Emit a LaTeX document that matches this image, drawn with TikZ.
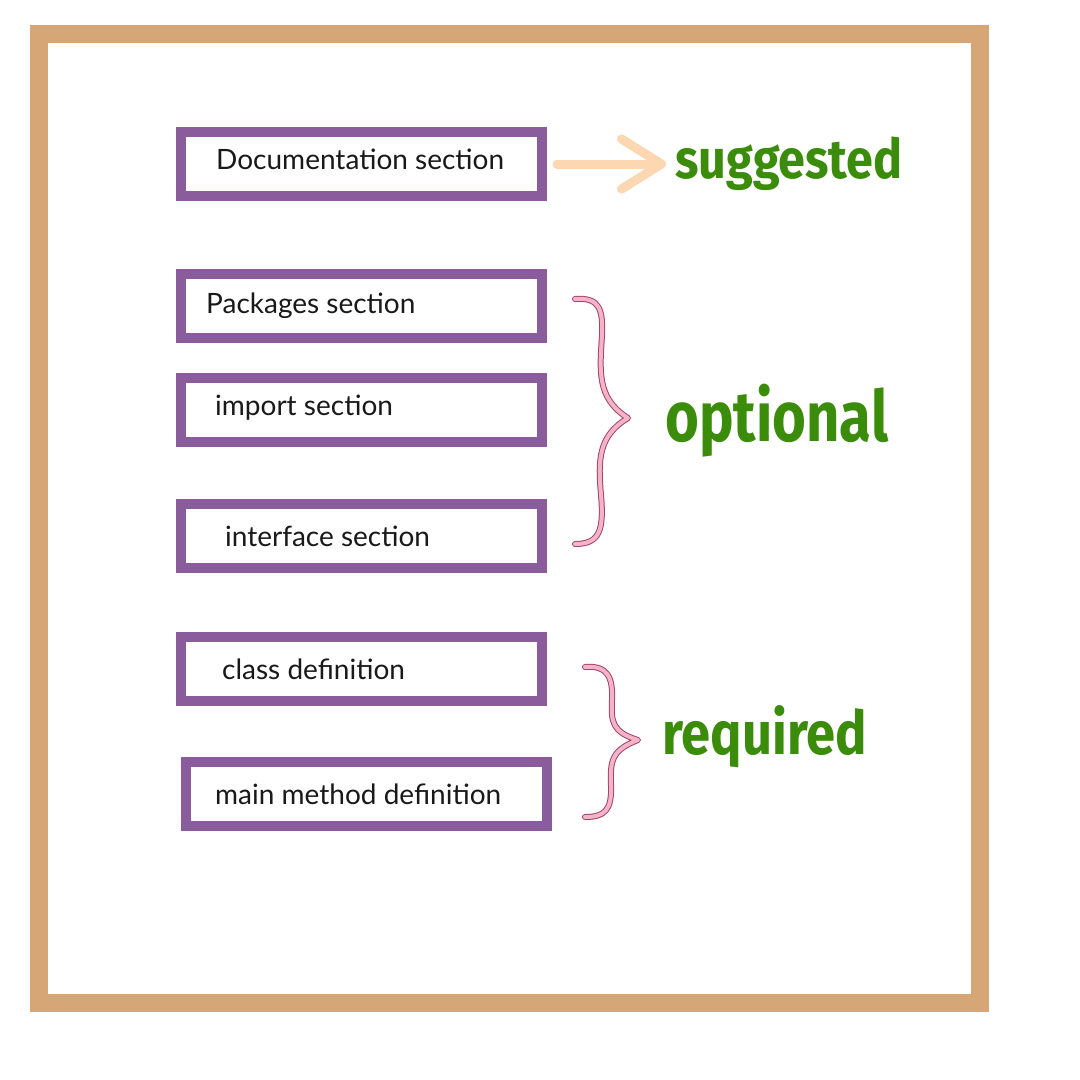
\documentclass[tikz,border=0pt]{standalone}
\usepackage{fontspec}
\setmainfont{Lato}
\newfontfamily\labfont{Fira Sans}
\usetikzlibrary{arrows.meta}
\definecolor{frame}{HTML}{D6A676}
\definecolor{boxc}{HTML}{8A5C9B}
\definecolor{peach}{HTML}{FDD6B2}
\definecolor{pinkf}{HTML}{F5B3C8}
\definecolor{pinkd}{HTML}{A0446C}
\definecolor{grn}{HTML}{3A8C0A}
\begin{document}
\begin{tikzpicture}[x=1pt,y=-1pt,
  secbox/.style={draw=boxc, line width=10pt, minimum width=361pt, minimum height=64pt, inner sep=0pt, fill=white},
  sectext/.style={anchor=west, font=\fontsize{28}{32}\selectfont, text=black!90, inner sep=0pt},
  lab/.style={text=grn, inner sep=0pt, font=\labfont\bfseries},
  bracebg/.style={draw=pinkd, line width=6pt, line cap=round, line join=round},
  bracefg/.style={draw=pinkf, line width=4pt, line cap=round, line join=round}]
\useasboundingbox (0,0) rectangle (1080,1080);
\fill[white] (0,0) rectangle (1080,1080);
\draw[frame, line width=18pt] (39,34) rectangle (980,1003);

\node[secbox] (b1) at (361.5,164) {};
\node[secbox] (b2) at (361.5,306) {};
\node[secbox] (b3) at (361.5,410) {};
\node[secbox] (b4) at (361.5,536) {};
\node[secbox] (b5) at (361.5,669) {};
\node[secbox] (b6) at (366.5,794) {};

\node[sectext] (t1) at (216,159) {Documentation section};
\node[sectext] (t2) at (206,306) {Packages section};
\node[sectext] (t3) at (215,408) {import section};
\node[sectext] (t4) at (225,536) {interface section};
\node[sectext] (t5) at (222,669) {class definition};
\node[sectext] (t6) at (215,794) {main method definition};

\node[lab, anchor=west] (sug) at (675,164) {\scalebox{1}[1.13]{\fontsize{48.5}{52}\selectfont suggested}};
\node[lab, anchor=west] (opt) at (665,421) {\scalebox{1}[1.22]{\fontsize{58}{60}\selectfont optional}};
\node[lab, anchor=west] (req) at (662,737) {\scalebox{1}[1.15]{\fontsize{52.5}{56}\selectfont required}};

\draw[peach, line width=9pt, line cap=round, line join=round, shorten <=10pt, shorten >=9pt,
  -{Straight Barb[length=40pt, width=50pt, line cap=round, line join=round]}] (b1.east) -- (sug.west);

\coordinate (o1) at (575,299);
\coordinate (o2) at (628,418);
\coordinate (o3) at (575,544);
\foreach \s in {bracebg,bracefg}{
\draw[\s] (o1) .. controls (600,297) and (603,310) .. (602,335) .. controls (600,370) and (596,398) .. (o2)
  .. controls (598,436) and (598,460) .. (601,495) .. controls (604,530) and (600,544) .. (o3);
\draw[\s] (585,667) .. controls (608,665) and (613,678) .. (612,700) .. controls (611,722) and (612,732) .. (638,740)
  .. controls (612,750) and (610,760) .. (611,785) .. controls (612,810) and (605,817) .. (585,817);
}
\end{tikzpicture}
\end{document}
